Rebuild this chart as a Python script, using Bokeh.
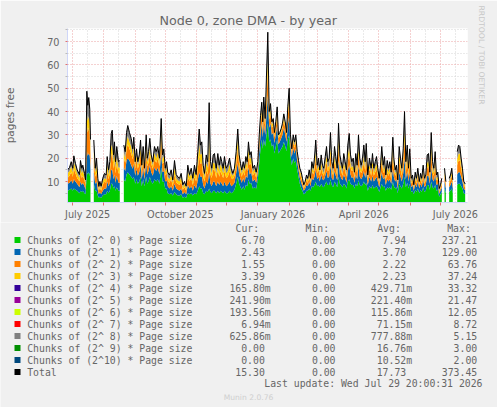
import datetime as dt
import numpy as np
from bokeh.plotting import figure
from bokeh.layouts import column
from bokeh.models import Label, FixedTicker, Range1d, Title
from bokeh.embed import file_html
from bokeh.resources import INLINE

# ---------------- data ----------------
START = dt.date(2025, 6, 26)
SPAN_DAYS = 397
Y_MIN, Y_MAX = 1.0, 75.6

days = [
    0.0, 2.0, 3.7, 5.3, 6.3, 7.9, 9.6, 11.9, 12.9, 14.2, 15.2, 16.9, 17.9, 19.2, 20.1, 21.1, 22.1, 22.8, 24.3,
    26.1, 27.5, 28.8, 30.1, 31.1, 32.1, 33.4, 35.0, 36.7, 38.4, 39.4, 40.7, 42.0, 43.4, 44.4, 45.7, 46.6, 47.6, 48.9, 50.6, 51.9, 53.6,
    55.9, 57.3, 58.6, 59.8, 61.5, 63.2, 64.8, 65.8, 67.2, 68.5, 69.8, 71.2, 72.5, 73.7, 75.1, 76.4, 78.1, 79.1, 80.4, 81.7,
    83.1, 84.7, 86.3, 88.0, 89.6, 91.3, 93.0, 94.3, 95.6, 97.0, 98.3, 99.5,
    101.2, 102.9, 104.5, 106.2, 107.9, 109.5, 111.2, 112.8, 114.4, 116.1, 117.8, 119.4, 121.1, 122.8, 124.4, 126.0, 127.7, 129.3,
    130.7, 132.0, 133.3, 134.7, 136.0, 137.7, 139.2, 140.6, 141.9, 143.2, 144.6, 145.9, 147.6, 149.2, 150.6, 151.9, 153.1, 154.5,
    155.8, 157.5, 159.1, 160.8, 162.5,
    164.1, 165.7, 167.4, 169.0, 170.4, 171.7, 173.0, 174.4, 175.7, 177.0, 178.4, 179.6, 180.9, 182.3, 183.9, 185.6, 187.3,
    188.9, 190.3, 191.6, 192.8, 193.8, 194.8, 196.2, 198.8, 200.2, 201.5, 202.8, 204.2, 205.4, 206.7, 208.1, 209.4, 210.7, 212.1,
    213.4, 214.7, 216.1, 217.4, 218.6, 220.0, 221.3, 222.6, 224.0, 225.3, 226.6, 228.0, 229.3, 230.6,
    232.0, 233.2, 234.5, 235.9, 237.2, 238.5, 239.9, 241.2, 242.5, 243.9, 245.1, 246.4, 247.8, 249.1, 250.4, 251.8, 253.1, 254.4,
    255.8, 257.1, 258.3, 259.7, 261.0, 262.3, 263.7, 265.0, 266.3, 267.7, 269.0, 270.3, 271.6, 272.9, 274.2, 275.6, 276.9, 278.2,
    279.6, 280.9, 282.2, 283.6, 284.8, 286.1, 287.5, 288.8, 290.1, 291.5, 292.8, 294.1, 295.5,
    296.5, 298.0, 299.7, 301.4, 302.7, 304.0, 305.4, 306.7, 308.0, 309.4, 310.7, 311.9, 313.3, 314.6, 315.9, 317.3, 318.6, 319.9,
    321.3, 322.9, 323.9, 325.2, 326.5, 327.8, 329.2, 330.5, 331.8, 333.2, 334.5, 335.8, 337.2, 338.4, 339.7, 341.1, 342.4, 343.7,
    345.1, 346.4, 347.7, 349.1, 350.4, 351.6, 353.0, 354.3, 355.6, 357.0, 358.3, 359.6, 361.0, 362.3, 363.6, 364.9, 366.2, 367.5,
    368.9, 370.2, 371.5, 372.7, 374.2, 375.5, 377.2, 378.8, 380.1, 381.4, 382.4, 384.6, 386.8, 388.1, 389.4, 390.7, 392.0, 393.3, 394.7,
]

total = [
    15, 16, 18.5, 15.7, 21, 17.8, 15, 13, 19, 15.7, 17, 13.5, 10.7, 48.7, 42.7, 46, 41, 28, None,
    27.8, 15.7, 20, 11.4, 7.9, 10, 8, 11.4, 13.5, 12.8, 20.7, 15, 18.5, 30.6, 32, 21.4, 27, 18.5, 25, 18.5, 19, None,
    25.6, 22.8, 31, 34, 31, 28.5, 24, 29, 18.5, 24, 18.5, 21.4, 27.8, 17, 25, 15.7, 30, 20, 22.8, 28.5,
    21.4, 18.5, 25, 22.8, 25, 20, 37, 21.4, 24, 15.7, 18.5, 14,
    12.8, 15, 10.7, 19, 13, 12, 11.4, 13.5, 8.6, 10, 8, 17, 13, 15.7, 11.4, 17, 13, 22.8,
    32.5, 25.6, 27, 17, 13.5, 21.4, 18.5, 43.8, 18.5, 15.7, 21.4, 22, 15.7, 22, 17, 20.7, 18.5, 15.7,
    20.7, 15.7, 17, 20, 15.7,
    13.5, 15.7, 22.8, 32.5, 21.4, 17.8, 15, 18.5, 15.7, 20.7, 18.5, 27, 21.4, 22.8, 15.7, 17, 14,
    18.5, 30, 38.4, 44, 35.6, 46.2, 37, 74, 40, 43.4, 35.6, 37, 31, 35.6, 42, 30, 31, 32.7,
    35, 39, 35.6, 31, 42, 50, 30, 24, 30, 27, 30, 22.8, 19, 15.7,
    14, 11.4, 8.6, 10, 12.8, 11.4, 15, 11.4, 18.5, 15.7, 20, 27.8, 17, 20, 15, 21.4, 17, 15.7,
    20.7, 25, 18.5, 20, 31, 18.5, 15.7, 25, 20.7, 15.7, 35, 21.4, 18.5, 15.7, 22, 18.5, 15, 25.6,
    30.6, 21.4, 18.5, 20, 14, 22, 17, 30, 20, 17, 20, 25.6, 18.5,
    26.3, 12.8, 20, 15.7, 22, 15.7, 18.5, 20.7, 15.7, 11.4, 17, 25, 17, 20.7, 12.8, 19, 15.7, 18.5,
    14, 29, 20, 15, 17, 10.7, 25, 20, 15.7, 24, 40, 18.5, 25.6, 15.7, 24, 11.4, 12.8, 8.6,
    14, 11.4, 15.7, 10, 13.5, 11.4, 17, 11.4, 12.8, 21.4, 22, 14, 31, 18.5, 15.7, 22.8, 12.8, 14,
    7, 8.6, 11.4, None, 15.7, 10, None, 11.4, 12.8, 15.7, 10.7, None, 22.8, 25.6, 25, 20, 15.7, 10, 9,
]

# Chunks of (2^0) - green
chunks_2p0 = [
    6, 6.5, 7, 6, 7, 6.5, 6, 5, 6, 5.5, 6, 5, 4.5, 14, 13, 14, 13, 10, None,
    9, 6, 6, 4, 3, 3.5, 3, 4, 4.5, 4.5, 6, 5, 6, 9, 9, 7, 8, 6, 7.5, 6, 6, None,
    11, 10, 13, 14, 13, 12, 11, 12, 9, 11, 9, 10, 12, 8, 11, 8, 12, 9, 10, 12,
    10, 9, 11, 10, 11, 9, 16, 10, 10, 7, 7, 5,
    4.5, 5, 4, 5.5, 4.5, 4, 4, 4.5, 3, 3.5, 3, 5, 4.5, 5, 4, 5, 4.5, 6,
    8, 7, 7, 5, 4.5, 6, 5.5, 7, 5.5, 5, 6, 6, 5, 6, 5, 6, 5.5, 5,
    6, 5, 5, 6, 5,
    5.5, 6.5, 9, 12, 9, 7.5, 6.5, 8, 6.5, 8.5, 8, 11, 9, 9.5, 7, 7.5, 7,
    11, 18, 24, 28, 24, 28, 25, 35, 27, 28, 25, 26, 22, 25, 28, 22, 23, 24,
    25, 27, 25, 23, 28, 30, 21, 17, 20, 18, 19, 15, 12, 9,
    7, 6, 4.5, 5, 6, 6, 7, 6, 8, 7.5, 8.5, 10, 8, 8.5, 7.5, 9, 8, 7.5,
    9, 10, 8.5, 8.5, 11, 8.5, 7.5, 10, 9, 7.5, 12, 9, 8.5, 7.5, 9, 8.5, 7, 10,
    11, 9, 8.5, 8.5, 7, 9, 8, 10.5, 8.5, 8, 8.5, 10, 8.5,
    9.5, 6, 8, 7, 8.5, 7, 7.5, 8, 7, 5.5, 7.5, 9, 7.5, 8, 6, 7.5, 7, 7.5,
    6.5, 10, 8, 7, 7.5, 5, 9, 8, 7, 9, 12, 7.5, 9.5, 7, 9, 5.5, 6, 4.5,
    6.5, 5.5, 7, 5, 6.5, 5.5, 7.5, 5.5, 6, 8.5, 8.5, 6.5, 10, 7.5, 7, 8.5, 6, 6.5,
    3.5, 4.5, 5.5, None, 7, 5, None, 5.5, 6, 7, 5, None, 8.5, 9, 9, 8, 7, 5, 4.5,
]

# Chunks of (2^1) - blue
chunks_2p1 = [
    3, 3, 3.5, 3, 4, 3.5, 3, 2.5, 4, 3, 3.5, 3, 2, 9, 8, 8, 8, 5, None,
    5, 3, 4, 2.5, 1.5, 2, 1.5, 2, 2.5, 2.5, 4, 3, 3.5, 6, 6, 4, 5, 3.5, 5, 3.5, 3.5, None,
    5, 4.5, 6, 6, 6, 5, 4.5, 5.5, 3.5, 4.5, 3.5, 4, 5, 3, 5, 3, 6, 4, 4.5, 5,
    4, 3.5, 5, 4.5, 5, 4, 7, 4, 4.5, 3, 3.5, 3,
    2.5, 3, 2, 3.5, 2.5, 2.5, 2, 2.5, 1.5, 2, 1.5, 3.5, 2.5, 3, 2, 3.5, 2.5, 4.5,
    6, 5, 5, 3.5, 2.5, 4, 3.5, 7, 3.5, 3, 4, 4, 3, 4, 3.5, 4, 3.5, 3,
    4, 3, 3.5, 4, 3,
    3, 3, 4.5, 6, 4, 3.5, 3, 3.5, 3, 4, 3.5, 5, 4, 4.5, 3, 3.5, 2.5,
    3, 5, 6, 7, 5, 7, 5, 12, 6, 7, 5, 5, 4.5, 5, 6, 4, 4, 4.5,
    5, 6, 5, 4, 6, 8, 4, 3.5, 4.5, 4, 5, 3.5, 3, 2.5,
    2.5, 2, 1.5, 2, 2.5, 2, 3, 2, 3.5, 3, 3.5, 5, 3, 3.5, 2.5, 4, 3, 3,
    3.5, 4.5, 3, 3.5, 6, 3, 3, 4.5, 3.5, 3, 7, 4, 3, 3, 4, 3, 2.5, 4.5,
    6, 4, 3, 3.5, 2.5, 4, 3, 6, 3.5, 3, 3.5, 4.5, 3,
    5, 2.5, 4, 3, 4, 3, 3.5, 4, 3, 2, 3.5, 5, 3.5, 4, 2.5, 3.5, 3, 3.5,
    2.5, 5.5, 4, 3, 3.5, 2, 5, 4, 3, 4.5, 8, 3.5, 5, 3, 4.5, 2, 2.5, 1.5,
    2.5, 2, 3, 2, 2.5, 2, 3.5, 2, 2.5, 4, 4, 2.5, 6, 3.5, 3, 4.5, 2.5, 2.5,
    1.2, 1.5, 2, None, 3, 2, None, 2, 2.5, 3, 2, None, 4.5, 5, 5, 4, 3, 2, 1.8,
]

# Chunks of (2^2) - orange
chunks_2p2 = [
    2.5, 3, 3.5, 3, 4.5, 3.5, 2.5, 2.5, 4, 3, 3, 2.5, 2, 12, 10, 11, 9, 6, None,
    6, 3, 4, 2, 1.5, 2, 1.5, 2.5, 3, 2.5, 4.5, 3, 4, 6, 7, 4.5, 6, 4, 5, 4, 4, None,
    4, 3.5, 5, 6, 5, 5, 4, 5, 3, 4, 3, 3.5, 5, 3, 4, 2.5, 5, 3.5, 3.5, 5,
    3.5, 3, 4, 3.5, 4, 3.5, 6, 3.5, 4, 2.5, 3.5, 2.5,
    2.5, 3, 2, 4, 2.5, 2.5, 2.5, 3, 2, 2, 1.5, 3.5, 3, 3.5, 2.5, 3.5, 3, 5,
    7, 5.5, 6, 3.5, 3, 5, 4, 9, 4, 3.5, 5, 5, 3.5, 5, 3.5, 4.5, 4, 3.5,
    4.5, 3.5, 3.5, 4.5, 3.5,
    2.5, 3, 4, 6, 4, 3, 2.5, 3, 3, 4, 3, 5, 4, 4, 2.5, 3, 2,
    2, 3, 4, 4, 3, 5, 3.5, 10, 3.5, 4, 3, 3, 2.5, 3, 4, 2.5, 2.5, 2.5,
    3, 3, 3, 2.5, 4, 6, 2.5, 2, 2.5, 2.5, 3, 2, 2, 2,
    2, 1.5, 1, 1.5, 2, 1.5, 2, 1.5, 3, 2.5, 3, 5, 2.5, 3, 2.5, 3, 2.5, 2,
    3, 4, 3, 3, 5, 3, 2, 4, 3, 2, 6, 3, 3, 2, 3.5, 3, 2.5, 4,
    5, 3, 3, 3, 2, 3.5, 2.5, 5, 3, 2.5, 3, 4, 3,
    5, 2, 3.5, 2.5, 4, 2.5, 3, 3.5, 2.5, 1.5, 2.5, 5, 2.5, 3.5, 2, 3, 2.5, 3,
    2, 6, 3.5, 2.5, 2.5, 1.5, 5, 3.5, 2.5, 4.5, 8, 3, 5, 2.5, 4.5, 1.5, 2, 1,
    2, 1.5, 2.5, 1.5, 2, 1.5, 2.5, 1.5, 2, 3.5, 4, 2, 6, 3, 2.5, 4, 2, 2,
    0.8, 1, 1.5, None, 2.5, 1.5, None, 1.5, 2, 2.5, 1.5, None, 4, 5, 5, 3.5, 2.5, 1.5, 1.2,
]

# Chunks of (2^3) - yellow
chunks_2p3 = [
    2, 2, 2.5, 2, 3, 2.5, 2, 1.5, 2.5, 2, 2.5, 1.5, 1, 5, 5, 5, 5, 3, None,
    3, 2, 3, 1.5, 1, 1, 1, 1.5, 1.5, 1.5, 3, 2, 2.5, 4, 4, 3, 3.5, 2.5, 3, 2.5, 2.5, None,
    2.5, 2, 3, 3.5, 3, 3, 2, 3, 1.5, 2, 1.5, 2, 3, 1.5, 2.5, 1, 3, 2, 2, 3,
    2, 1.5, 2.5, 2, 2.5, 2, 4, 2, 2.5, 1.5, 2, 1.5,
    1.5, 2, 1.5, 3, 2, 1.5, 1.5, 2, 1, 1.5, 1, 2.5, 2, 2, 1.5, 2.5, 2, 3.5,
    5, 4, 4, 2.5, 2, 3, 3, 6, 3, 2, 3, 3, 2, 3, 2.5, 3, 3, 2,
    3, 2, 2.5, 3, 2,
    1.5, 2, 3, 4, 2.5, 2, 1.5, 2, 2, 2.5, 2, 3, 2.5, 2.5, 1.5, 1.5, 1.5,
    1, 2, 2, 2, 1.5, 2, 1.5, 6, 2, 2, 1.5, 1.5, 1, 1.5, 2, 1, 1, 1,
    1, 1.5, 1.5, 1, 2, 3, 1, 1, 1, 1, 1, 1, 1, 1,
    1.5, 1, 0.8, 1, 1, 1, 1.5, 1, 2, 1.5, 2, 3, 1.5, 2, 1, 2, 1.5, 1,
    2, 2.5, 1.5, 2, 3, 1.5, 1, 2.5, 2, 1, 4, 2, 1.5, 1, 2, 1.5, 1, 2.5,
    3, 2, 1.5, 2, 1, 2, 1.5, 3, 2, 1.5, 2, 2.5, 1.5,
    3, 1, 2, 1.5, 2.5, 1.5, 2, 2, 1.5, 1, 1.5, 3, 1.5, 2, 1, 2, 1.5, 2,
    1, 3.5, 2, 1, 1.5, 0.8, 3, 2, 1.5, 2.5, 5, 2, 3, 1.5, 2.5, 1, 1, 0.8,
    1, 1, 1.5, 0.8, 1, 1, 1.5, 1, 1, 2, 2.5, 1, 3.5, 2, 1.5, 2.5, 1, 1,
    0.5, 0.8, 1, None, 1.5, 0.8, None, 1, 1, 1.5, 1, None, 2.5, 3, 3, 2, 1.5, 0.8, 0.8,
]

series_labels = [
    "Chunks of (2^ 0) * Page size", "Chunks of (2^ 1) * Page size", "Chunks of (2^ 2) * Page size",
    "Chunks of (2^ 3) * Page size", "Chunks of (2^ 4) * Page size", "Chunks of (2^ 5) * Page size",
    "Chunks of (2^ 6) * Page size", "Chunks of (2^ 7) * Page size", "Chunks of (2^ 8) * Page size",
    "Chunks of (2^ 9) * Page size", "Chunks of (2^10) * Page size", "Total",
]
series_colors = ["#00CC00", "#0066B3", "#FF8000", "#FFCC00", "#330099", "#990099",
                 "#CCFF00", "#FF0000", "#808080", "#008F00", "#00487D", "#000000"]
cur_vals = ["6.70", "2.43", "1.55", "3.39", "165.80m", "241.90m", "193.56m", "6.94m", "625.86m", "0.00", "0.00", "15.30"]
min_vals = ["0.00"] * 12
avg_vals = ["7.94", "3.70", "2.22", "2.23", "429.71m", "221.40m", "115.86m", "71.15m", "777.88m", "16.76m", "10.52m", "17.73"]
max_vals = ["237.21", "129.00", "63.76", "37.24", "33.32", "21.47", "12.05", "8.72", "5.15", "3.00", "2.00", "373.45"]

y_ticks = [10, 20, 30, 40, 50, 60, 70]
y_minor = [5, 15, 25, 35, 45, 55, 65, 75]
x_tick_labels = ["July 2025", "October 2025", "January 2026", "April 2026", "July 2026"]
x_label_dates = [dt.date(2025, 7, 16), dt.date(2025, 10, 16), dt.date(2026, 1, 16),
                 dt.date(2026, 4, 16), dt.date(2026, 7, 16)]

TITLE = "Node 0, zone DMA - by year"
Y_LABEL = "pages free"
LAST_UPDATE = "Last update: Wed Jul 29 20:00:31 2026"

# ---------------- layout constants ----------------
W, H = 497, 407
TOP_H = 222
FRAME_L, FRAME_R, FRAME_T, FRAME_B = 67, 467, 28, 203
FONT_COLOR = "#666666"
AXIS_COLOR = "#CFD6F8"
MGRID = "#EBA3A3"
GRID = "#D4D4D4"
BG = "#F0F0F0"

month_dates = []
y_, m_ = 2025, 7
while True:
    d = dt.date(y_, m_, 1)
    if (d - START).days > SPAN_DAYS:
        break
    month_dates.append(d)
    m_ += 1
    if m_ > 12:
        m_, y_ = 1, y_ + 1
month_days = [(d - START).days for d in month_dates]
mid_days = [(dt.date(d.year, d.month, 16) - START).days for d in month_dates]
mid_days = [d for d in mid_days if 0 <= d <= SPAN_DAYS]
label_days = [(d - START).days for d in x_label_dates]

# ---------------- chart figure ----------------
p = figure(width=W, height=TOP_H, output_backend="svg", toolbar_location=None,
           x_range=Range1d(0, SPAN_DAYS), y_range=Range1d(Y_MIN, Y_MAX),
           min_border_left=FRAME_L, min_border_right=W - FRAME_R,
           min_border_top=FRAME_T, min_border_bottom=TOP_H - FRAME_B,
           background_fill_color="#FFFFFF", border_fill_color=BG,
           outline_line_color=None)
p.frame_align = False

p.title.text = TITLE
p.title.text_font = "DejaVu Sans"
p.title.text_font_size = "12.7px"
p.title.text_font_style = "normal"
p.title.text_color = FONT_COLOR
p.title.align = "left"
p.title.offset = 92
p.title.standoff = 2

p.add_layout(Title(text="RRDTOOL / TOBI OETIKER", text_font="DejaVu Sans", text_font_size="7.7px",
                   text_font_style="normal", text_color="#C8C8C8", align="left", standoff=18,
                   offset=-23), "right")

p.xgrid.ticker = FixedTicker(ticks=month_days, minor_ticks=mid_days)
p.xgrid.grid_line_color = MGRID
p.xgrid.grid_line_dash = "1 2"
p.xgrid.minor_grid_line_color = GRID
p.xgrid.minor_grid_line_dash = "1 2"
p.ygrid.ticker = FixedTicker(ticks=y_ticks, minor_ticks=y_minor)
p.ygrid.grid_line_color = MGRID
p.ygrid.grid_line_dash = "1 2"
p.ygrid.minor_grid_line_color = GRID
p.ygrid.minor_grid_line_dash = "1 2"

ax = p.yaxis[0]
ax.ticker = FixedTicker(ticks=y_ticks, minor_ticks=y_minor)
ax.axis_line_color = AXIS_COLOR
ax.major_tick_line_color = "#E07070"
ax.major_tick_out = 2
ax.major_tick_in = 0
ax.minor_tick_line_color = "#BBBBBB"
ax.minor_tick_out = 2
ax.minor_tick_in = 0
ax.major_label_standoff = 6
ax.major_label_text_font = "DejaVu Sans"
ax.major_label_text_font_size = "9.7px"
ax.major_label_text_color = FONT_COLOR
ax.axis_label = Y_LABEL
ax.axis_label_text_font = "DejaVu Sans"
ax.axis_label_text_font_size = "10.5px"
ax.axis_label_text_font_style = "normal"
ax.axis_label_text_color = FONT_COLOR
ax.axis_label_standoff = 28

bx = p.xaxis[0]
bx.ticker = FixedTicker(ticks=label_days, minor_ticks=month_days)
bx.major_label_overrides = {d: t for d, t in zip(label_days, x_tick_labels)}
bx.axis_line_color = AXIS_COLOR
bx.major_tick_line_color = None
bx.major_tick_out = 0
bx.major_tick_in = 0
bx.minor_tick_line_color = "#E07070"
bx.minor_tick_out = 3
bx.minor_tick_in = 0
bx.major_label_standoff = 3
bx.major_label_text_font = "DejaVu Sans"
bx.major_label_text_font_size = "9.7px"
bx.major_label_text_color = FONT_COLOR

x = np.array(days, dtype=float)
t = np.array(total, dtype=float)
parts = [np.array(c, dtype=float) for c in (chunks_2p0, chunks_2p1, chunks_2p2, chunks_2p3)]
rest = np.clip(t - sum(parts), 0, None)
layers = parts + [rest]
layer_colors = series_colors[:4] + [series_colors[8]]
cum = [np.zeros_like(t)]
for lay in layers:
    cum.append(cum[-1] + lay)

idx = np.where(np.isfinite(t))[0]
segments = np.split(idx, np.where(np.diff(idx) > 1)[0] + 1)
for seg in segments:
    for k, col in enumerate(layer_colors):
        p.varea(x=x[seg], y1=cum[k][seg], y2=cum[k + 1][seg], fill_color=col)

p.line(x, t, line_color="#000000", line_width=1)

# ---------------- legend figure (pixel coordinates) ----------------
LEG_H = H - TOP_H
q = figure(width=W, height=LEG_H, output_backend="svg", toolbar_location=None,
           x_range=Range1d(0, W), y_range=Range1d(H, TOP_H),
           x_axis_type=None, y_axis_type=None, min_border=0,
           background_fill_color=BG, border_fill_color=BG, outline_line_color=None)
q.frame_align = False
q.grid.visible = False


def add_text(cx, cy, text, size, color=FONT_COLOR, font="DejaVu Sans", align="left"):
    q.add_layout(Label(x=cx, y=cy, text=text, text_font=font, text_font_size=f"{size}px",
                       text_color=color, text_align=align, text_baseline="middle"))


MONO = "DejaVu Sans Mono"
MS = 9.8
CW = 5.93
add_text(235, 227.5, "Cur:", MS, font=MONO)
add_text(305, 227.5, "Min:", MS, font=MONO)
add_text(376.7, 227.5, "Avg:", MS, font=MONO)
add_text(446.7, 227.5, "Max:", MS, font=MONO)
col_ends = [264.3, 335.0, 405.7, 476.7]
row_y = [239.5 + 12 * i for i in range(len(series_labels))]
q.rect(x=[17] * len(row_y), y=row_y, width=6, height=6, fill_color=series_colors, line_color=None)
for i, lbl in enumerate(series_labels):
    ry = row_y[i]
    add_text(26.7, ry, lbl, MS, font=MONO)
    for cx, vals in zip(col_ends, (cur_vals, min_vals, avg_vals, max_vals)):
        v = vals[i]
        add_text(cx + (CW if v.endswith("m") else 0), ry, v, MS, font=MONO, align="right")
add_text(482, 383.3, LAST_UPDATE, MS, font=MONO, align="right")
add_text(248, 397, "Munin 2.0.76", 7.6, color="#CFCFCF", align="center")

layout = column(p, q, spacing=0)
open("out.html", "w").write(file_html(layout, INLINE))
